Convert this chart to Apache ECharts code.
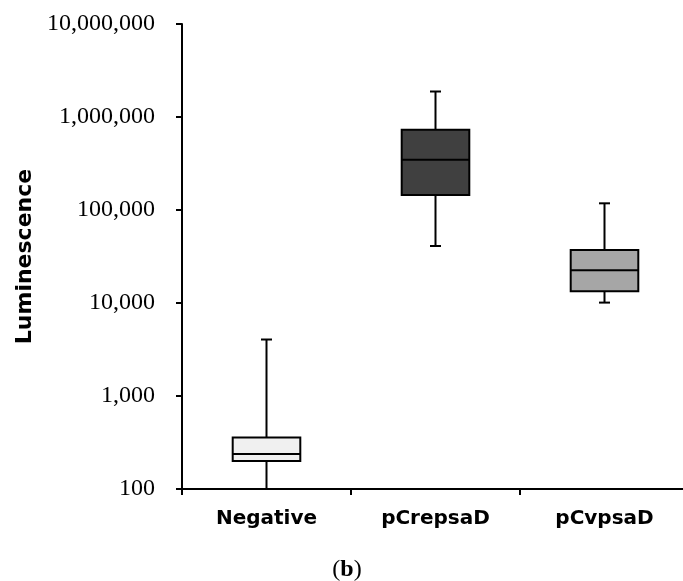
<!DOCTYPE html>
<html>
<head>
<meta charset="utf-8">
<script src="https://cdn.jsdelivr.net/npm/echarts@6/dist/echarts.min.js"></script>
<style>
  html, body { margin: 0; padding: 0; background: #fff; }
  #chart { width: 683px; height: 581px; }
</style>
</head>
<body>
<div id="chart"></div>
<script>
// box plot values (log scale)
var categories = ['Negative', 'pCrepsaD', 'pCvpsaD'];
var whiskerLow = [100, 41000, 10100];
var q1 = [200, 145000, 13400];
var median = [238, 347000, 22500];
var q3 = [358, 728000, 37200];
var whiskerHigh = [4050, 1880000, 118000];
var yTicks = [100, 1000, 10000, 100000, 1000000, 10000000];

var boxColors = ['#f0f0f0', '#404040', '#a6a6a6'];

var rows = categories.map(function (c, i) {
  return [i, whiskerLow[i], q1[i], median[i], q3[i], whiskerHigh[i]];
});

function withCommas(v) {
  return String(Math.round(v)).replace(/\B(?=(\d{3})+(?!\d))/g, ',');
}

// draw each box by hand so the whisker caps stay short
function renderBox(params, api) {
  var i = api.value(0);
  var pLow = api.coord([i, api.value(1)]);
  var pQ1 = api.coord([i, api.value(2)]);
  var pMed = api.coord([i, api.value(3)]);
  var pQ3 = api.coord([i, api.value(4)]);
  var pHigh = api.coord([i, api.value(5)]);
  var x = pMed[0];
  var half = api.size([1, 1])[0] * 0.4 / 2;
  var cap = 5.5;
  var line = { stroke: '#000', lineWidth: 2 };
  return {
    type: 'group',
    children: [
      { type: 'line', shape: { x1: x, y1: pLow[1], x2: x, y2: pQ1[1] }, style: line },
      { type: 'line', shape: { x1: x, y1: pQ3[1], x2: x, y2: pHigh[1] }, style: line },
      { type: 'line', shape: { x1: x - cap, y1: pLow[1], x2: x + cap, y2: pLow[1] }, style: line },
      { type: 'line', shape: { x1: x - cap, y1: pHigh[1], x2: x + cap, y2: pHigh[1] }, style: line },
      {
        type: 'rect',
        shape: { x: x - half, y: pQ3[1], width: half * 2, height: pQ1[1] - pQ3[1] },
        style: { fill: boxColors[i], stroke: '#000', lineWidth: 2 }
      },
      { type: 'line', shape: { x1: x - half, y1: pMed[1], x2: x + half, y2: pMed[1] }, style: line }
    ]
  };
}

var myChart = echarts.init(document.getElementById('chart'));
var option = {
  animation: false,
  grid: { left: 182, top: 24, width: 507, height: 465, outerBoundsMode: 'none', containLabel: false },
  xAxis: {
    type: 'category',
    data: categories,
    axisLine: { lineStyle: { color: '#000', width: 2 } },
    axisTick: { show: true, length: 6, lineStyle: { color: '#000', width: 2 } },
    axisLabel: {
      margin: 20,
      color: '#000',
      fontFamily: 'DejaVu Sans',
      fontWeight: 'bold',
      fontSize: 20
    },
    splitLine: { show: false }
  },
  yAxis: {
    type: 'log',
    logBase: 10,
    min: yTicks[0],
    max: yTicks[yTicks.length - 1],
    name: 'Luminescence',
    nameLocation: 'middle',
    nameRotate: 90,
    nameGap: 146,
    nameTextStyle: {
      color: '#000',
      fontFamily: 'DejaVu Sans',
      fontWeight: 'bold',
      fontSize: 22
    },
    axisLine: { show: true, lineStyle: { color: '#000', width: 2 } },
    axisTick: { show: true, length: 6, lineStyle: { color: '#000', width: 2 } },
    axisLabel: {
      margin: 27,
      color: '#000',
      fontFamily: 'Liberation Serif',
      fontSize: 24,
      formatter: withCommas
    },
    splitLine: { show: false },
    minorTick: { show: false }
  },
  graphic: [{
    type: 'text',
    x: 347,
    y: 570,
    style: {
      text: '{n|(}{b|b}{n|)}',
      align: 'center',
      verticalAlign: 'middle',
      rich: {
        n: { fontFamily: 'Liberation Serif', fontSize: 24, fill: '#000' },
        b: { fontFamily: 'Liberation Serif', fontSize: 24, fontWeight: 'bold', fill: '#000' }
      }
    }
  }],
  series: [{
    type: 'custom',
    renderItem: renderBox,
    encode: { x: 0, y: [1, 2, 3, 4, 5] },
    data: rows,
    clip: false
  }]
};
myChart.setOption(option);
</script>
</body>
</html>
